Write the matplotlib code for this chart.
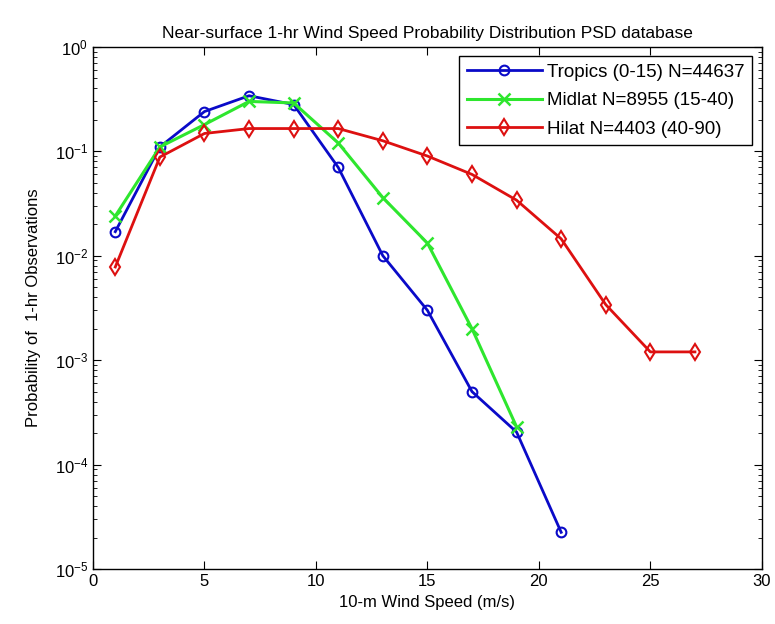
import matplotlib
matplotlib.use("Agg")
import matplotlib.pyplot as plt
from matplotlib.ticker import LogLocator, NullFormatter

plt.rcParams["font.family"] = ["Liberation Sans", "DejaVu Sans"]

# wind speed bin centres (m/s)
tropics_x = [1, 3, 5, 7, 9, 11, 13, 15, 17, 19, 21]
tropics_p = [0.017, 0.11, 0.24, 0.34, 0.28, 0.070, 0.0100, 0.0030, 0.00050, 0.000205, 2.25e-5]

midlat_x = [1, 3, 5, 7, 9, 11, 13, 15, 17, 19]
midlat_p = [0.024, 0.11, 0.18, 0.30, 0.29, 0.12, 0.036, 0.0132, 0.0020, 0.00023]

hilat_x = [1, 3, 5, 7, 9, 11, 13, 15, 17, 19, 21, 23, 25, 27]
hilat_p = [0.0078, 0.088, 0.148, 0.165, 0.165, 0.165, 0.126, 0.090, 0.060, 0.034, 0.0145, 0.0034, 0.0012, 0.0012]

labels = ["Tropics (0-15) N=44637", "Midlat N=8955 (15-40)", "Hilat N=4403 (40-90)"]

fig = plt.figure(figsize=(7.75, 6.24), dpi=100)
ax = fig.add_axes([0.12, 0.088, 0.863, 0.837])

ax.plot(tropics_x, tropics_p, color="#0a0ac8", marker="o", mfc="none", mec="#0a0ac8",
        ms=7, mew=1.5, lw=2, label=labels[0])
ax.plot(midlat_x, midlat_p, color="#2ee62e", marker="x", ms=9, mew=1.8, lw=2.2, label=labels[1])
ax.plot(hilat_x, hilat_p, color="#dd1010", marker="d", mfc="none", mec="#dd1010",
        ms=8, mew=1.5, lw=2, label=labels[2])

ax.set_yscale("log")
ax.set_xlim(0, 30)
ax.set_ylim(1e-5, 1)
ax.set_xticks([0, 5, 10, 15, 20, 25, 30])
ax.yaxis.set_major_locator(LogLocator(base=10, numticks=10))
ax.yaxis.set_minor_locator(LogLocator(base=10, subs=range(2, 10), numticks=20))
ax.yaxis.set_minor_formatter(NullFormatter())
ax.tick_params(which="both", direction="in", top=True, right=True, labelsize=12)
ax.tick_params(which="major", length=6)
ax.tick_params(which="minor", length=3)
for s in ax.spines.values():
    s.set_linewidth(1.0)

ax.set_xlabel("10-m Wind Speed (m/s)", fontsize=12)
ax.set_ylabel("Probability of  1-hr Observations", fontsize=12, labelpad=10)
ax.set_title("Near-surface 1-hr Wind Speed Probability Distribution PSD database", fontsize=12.5)

leg = ax.legend(loc="upper right", fontsize=13.5, fancybox=False, framealpha=1,
                edgecolor="black", borderaxespad=0.5, handlelength=4.0,
                handletextpad=0.3, labelspacing=0.6)
leg.get_frame().set_linewidth(1.0)

fig.savefig("out.png", dpi=100)
